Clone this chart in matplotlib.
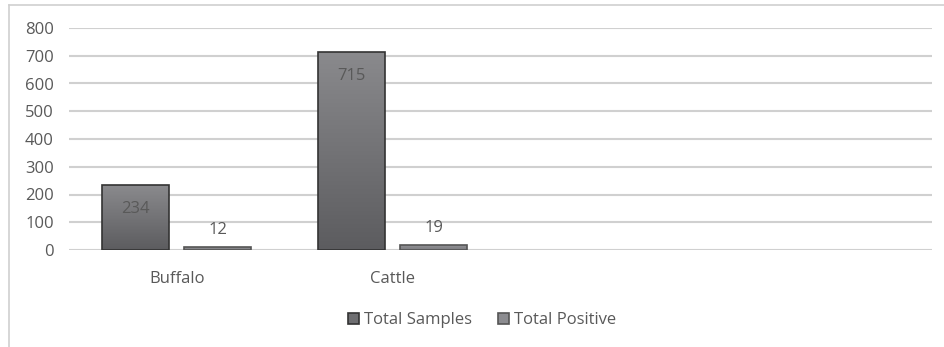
import numpy as np
import matplotlib.pyplot as plt
from matplotlib.patches import Rectangle

categories = ["Buffalo", "Cattle"]
total_samples = [234, 715]
total_positive = [12, 19]
series_names = ["Total Samples", "Total Positive"]

plt.rcParams["font.family"] = ["Open Sans", "DejaVu Sans"]
fs = 12

text_grey = "#595959"
grid_grey = "#d0d0d0"

fig = plt.figure(figsize=(9.44, 3.47), dpi=100)
ax = fig.add_axes([69 / 944, 1 - 250 / 347, 863 / 944, 222 / 347])

# outer chart frame (top and left edges only are visible)
fig.add_artist(plt.Line2D([9 / 944, 1], [1 - 5 / 347] * 2, color=grid_grey, lw=1.2))
fig.add_artist(plt.Line2D([9 / 944] * 2, [0, 1 - 5 / 347], color=grid_grey, lw=1.2))

x = np.arange(len(categories))
width = 0.31
offset = 0.19


def gradient_bars(xs, heights, top_col, bottom_col, edge):
    bars = ax.bar(xs, heights, width, color="none", edgecolor=edge, linewidth=1.2, zorder=3)
    grad = np.linspace(0, 1, 256).reshape(-1, 1)
    cmap = plt.matplotlib.colors.LinearSegmentedColormap.from_list("g", [bottom_col, top_col])
    for b in bars:
        x0, y0 = b.get_x(), b.get_y()
        w, h = b.get_width(), b.get_height()
        im = ax.imshow(grad, extent=[x0, x0 + w, y0, y0 + h], origin="lower",
                       aspect="auto", cmap=cmap, zorder=2)
        im.set_clip_path(b)
    return bars


gradient_bars(x - offset, total_samples, "#8a8a8d", "#5c5c5f", "#333333")
gradient_bars(x + offset, total_positive, "#96969a", "#7c7c80", "#555555")

# value labels: inside the tall bars, above the short ones
for xi, v in zip(x - offset, total_samples):
    ax.annotate(str(v), (xi, v), xytext=(0, -17.5), textcoords="offset points",
                ha="center", va="center", color=text_grey, fontsize=fs, zorder=4)
for xi, v in zip(x + offset, total_positive):
    ax.annotate(str(v), (xi, v), xytext=(0, 12), textcoords="offset points",
                ha="center", va="center", color=text_grey, fontsize=fs, zorder=4)

ax.set_xlim(-0.5, 3.5)
ax.set_ylim(0, 800)
ax.set_yticks(range(0, 801, 100))
ax.set_xticks(x)
ax.set_xticklabels(categories)
ax.yaxis.grid(True, color=grid_grey, linewidth=1.5, zorder=0)
ax.set_axisbelow(True)
for s in ax.spines.values():
    s.set_visible(False)
ax.tick_params(length=0, colors=text_grey, labelsize=fs)
ax.tick_params(axis="y", pad=11)
ax.tick_params(axis="x", pad=15)

handles = [
    Rectangle((0, 0), 1, 1, facecolor="#6e6e71", edgecolor="#333333", linewidth=1.2),
    Rectangle((0, 0), 1, 1, facecolor="#8c8c90", edgecolor="#555555", linewidth=1.2),
]
leg = fig.legend(handles, series_names, loc="center", bbox_to_anchor=(482 / 944, 1 - 320 / 347),
                 ncol=2, frameon=False, handlelength=0.65, handleheight=0.65,
                 handletextpad=0.3, columnspacing=1.6, fontsize=fs)
for t in leg.get_texts():
    t.set_color(text_grey)

fig.savefig("out.png", dpi=100, facecolor="white")
